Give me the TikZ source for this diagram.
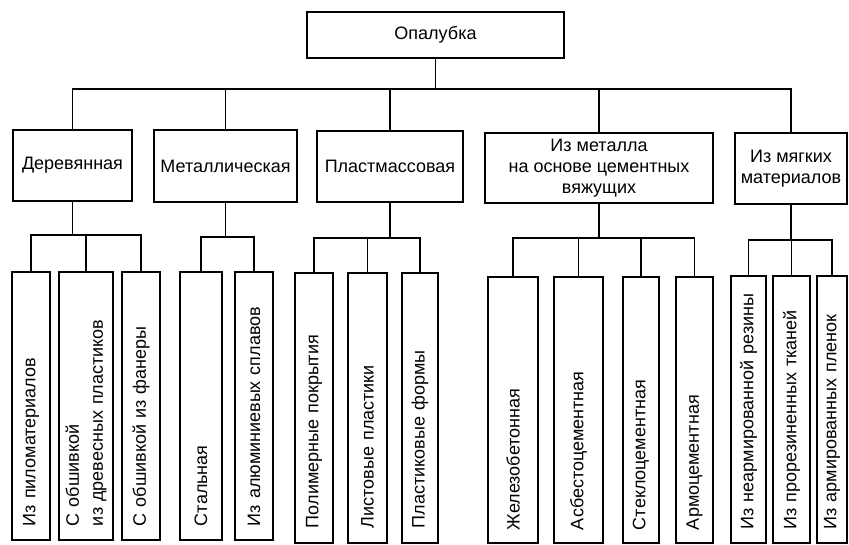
\documentclass[tikz,border=0pt]{standalone}
\usepackage{fontspec}
\setmainfont{Liberation Sans}
\begin{document}
\begin{tikzpicture}[x=1pt,y=-1pt,line width=1.9pt,
  every node/.style={font=\fontsize{18}{21}\selectfont},
  catbox/.style={draw,inner sep=0pt,align=center},
  leafbox/.style={draw,rotate=90,inner xsep=13pt,inner ysep=0pt,
    text width=240pt,align=left,anchor=center}]
\useasboundingbox (0,0) rectangle (849,545);

% root
\node[catbox,minimum width=257pt,minimum height=46pt] (root) at (435.5,35) {Опалубка};

% kinds of formwork
\node[catbox,minimum width=119pt,minimum height=71pt] (A) at (72.5,165.5) {Деревянная};
\node[catbox,minimum width=143pt,minimum height=72pt] (B) at (225.5,166) {Металлическая};
\node[catbox,minimum width=146pt,minimum height=71pt] (C) at (390,166.5) {Пластмассовая};
\node[catbox,minimum width=228pt,minimum height=70pt] (D) at (599,168) {Из металла\\на основе цементных\\вяжущих};
\node[catbox,minimum width=112pt,minimum height=71pt] (E) at (791,168.5) {Из мягких\\материалов};

% wooden
\node[leafbox,minimum width=268pt,minimum height=38pt] (a1) at (31,406) {Из пиломатериалов};
\node[leafbox,minimum width=268pt,minimum height=54pt,
  font=\fontsize{18}{24}\selectfont] (a2) at (86,406) {С обшивкой\\из древесных пластиков};
\node[leafbox,minimum width=268pt,minimum height=38pt] (a3) at (141,406) {С обшивкой из фанеры};
% metal
\node[leafbox,minimum width=268pt,minimum height=42pt] (b1) at (201,406) {Стальная};
\node[leafbox,minimum width=268pt,minimum height=38pt] (b2) at (254,406) {Из алюминиевых сплавов};
% plastic
\node[leafbox,minimum width=270pt,minimum height=38pt] (c1) at (314,408) {Полимерные покрытия};
\node[leafbox,minimum width=270pt,minimum height=39pt] (c2) at (367.5,408) {Листовые пластики};
\node[leafbox,minimum width=270pt,minimum height=36pt] (c3) at (420,408) {Пластиковые формы};
% cement-based
\node[leafbox,minimum width=266pt,minimum height=50pt] (d1) at (513,410) {Железобетонная};
\node[leafbox,minimum width=266pt,minimum height=49pt] (d2) at (578.5,410) {Асбестоцементная};
\node[leafbox,minimum width=266pt,minimum height=36pt] (d3) at (641,410) {Стеклоцементная};
\node[leafbox,minimum width=266pt,minimum height=37pt] (d4) at (694.5,410) {Армоцементная};
% soft materials
\node[leafbox,minimum width=267pt,minimum height=35pt] (e1) at (748.5,409.5) {Из неармированной резины};
\node[leafbox,minimum width=267pt,minimum height=37pt] (e2) at (791.5,409.5) {Из прорезиненных тканей};
\node[leafbox,minimum width=267pt,minimum height=30pt] (e3) at (832,409.5) {Из армированных пленок};

% bus levels
\coordinate (bus0) at (0,89);
\coordinate (busA) at (0,235);
\coordinate (busB) at (0,237);
\coordinate (busC) at (0,238);
\coordinate (busD) at (0,238);
\coordinate (busE) at (0,240);

% root to kinds
\draw (root.south) -- (root.south |- bus0);
\draw (A.north) |- (E.north |- bus0) -- (E.north);
\draw (B.north) -- (B.north |- bus0);
\draw (C.north) -- (C.north |- bus0);
\draw (D.north) -- (D.north |- bus0);

% kinds to leaves
\draw (A.south) -- (A.south |- busA);
\draw (a1.east) |- (a3.east |- busA) -- (a3.east);
\draw (a2.east) -- (a2.east |- busA);

\draw (B.south) -- (B.south |- busB);
\draw (b1.east) |- (b2.east |- busB) -- (b2.east);

\draw (C.south) -- (C.south |- busC);
\draw (c1.east) |- (c3.east |- busC) -- (c3.east);
\draw (c2.east) -- (c2.east |- busC);

\draw (D.south) -- (D.south |- busD);
\draw (d1.east) |- (d4.east |- busD) -- (d4.east);
\draw (d2.east) -- (d2.east |- busD);
\draw (d3.east) -- (d3.east |- busD);

\draw (E.south) -- (E.south |- busE);
\draw (e1.east) |- (e3.east |- busE) -- (e3.east);
\draw (e2.east) -- (e2.east |- busE);
\end{tikzpicture}
\end{document}
